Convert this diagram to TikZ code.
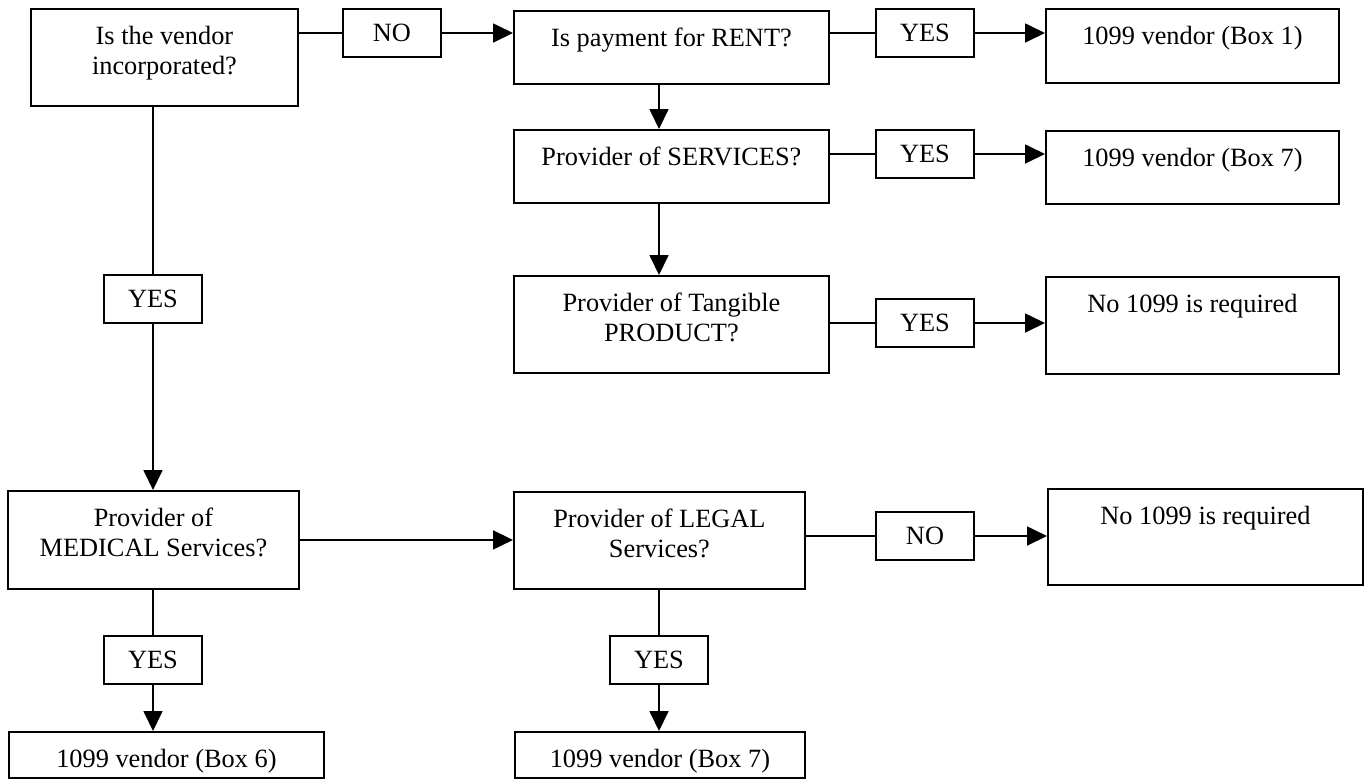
\documentclass[tikz,border=0pt]{standalone}
\usepackage{fontspec}
\setmainfont{Liberation Serif}
\usetikzlibrary{arrows.meta}

% box text set from the top of a box of given width and height
\newcommand{\boxtext}[3]{\parbox[c][#2][t]{#1}{\centering\vspace*{0.34cm}#3\par}}

\begin{document}
\begin{tikzpicture}[
    x=0.02cm, y=-0.02cm,
    every node/.style={font=\fontsize{15}{17}\selectfont},
    box/.style={draw, line width=1.1pt, inner sep=0pt, anchor=north west},
    tag/.style={draw, line width=1.1pt, inner sep=0pt,
                minimum width=1.96cm, minimum height=0.96cm},
    link/.style={line width=1pt},
    arrow/.style={line width=1pt, -{Triangle[length=0.4cm, width=0.38cm]}},
  ]
  \useasboundingbox (0,0) rectangle (1370,779);
  % question and answer boxes
  \node[box] (corp) at (30,8) {\boxtext{5.34cm}{1.94cm}{Is the vendor\\incorporated?}};
  \node[box] (rent) at (513,10) {\boxtext{6.30cm}{1.46cm}{Is payment for RENT?}};
  \node[box] (box1) at (1045,8) {\boxtext{5.86cm}{1.48cm}{1099 vendor (Box 1)}};
  \node[box] (serv) at (513,129) {\boxtext{6.30cm}{1.46cm}{Provider of SERVICES?}};
  \node[box] (box7a) at (1045,130) {\boxtext{5.86cm}{1.46cm}{1099 vendor (Box 7)}};
  \node[box] (prod) at (513,275) {\boxtext{6.30cm}{1.94cm}{Provider of Tangible\\PRODUCT?}};
  \node[box] (none1) at (1045,276) {\boxtext{5.86cm}{1.94cm}{No 1099 is required}};
  \node[box] (med) at (7,490) {\boxtext{5.82cm}{1.96cm}{Provider of\\MEDICAL Services?}};
  \node[box] (legal) at (513,491) {\boxtext{5.82cm}{1.94cm}{Provider of LEGAL\\Services?}};
  \node[box] (none2) at (1047,488) {\boxtext{6.30cm}{1.92cm}{No 1099 is required}};
  \node[box] (box6) at (8,731) {\boxtext{6.30cm}{0.92cm}{1099 vendor (Box 6)}};
  \node[box] (box7b) at (514,731) {\boxtext{5.80cm}{0.92cm}{1099 vendor (Box 7)}};
  % yes / no tags
  \node[tag] (no1) at (392,33) {NO};
  \node[tag] (yes1) at (925,33) {YES};
  \node[tag] (yes2) at (925,154) {YES};
  \node[tag] (yes3) at (925,323) {YES};
  \node[tag] (no2) at (925,536) {NO};
  \node[tag] (yesa) at (153,299) {YES};
  \node[tag] (yesb) at (153,660) {YES};
  \node[tag] (yesc) at (659,660) {YES};
  % connectors
  \draw[link] (corp.east |- no1.west) -- (no1.west);
  \draw[arrow] (no1.east) -- (rent.west |- no1.east);
  \draw[link] (rent.east |- yes1.west) -- (yes1.west);
  \draw[arrow] (yes1.east) -- (box1.west |- yes1.east);
  \draw[link] (serv.east |- yes2.west) -- (yes2.west);
  \draw[arrow] (yes2.east) -- (box7a.west |- yes2.east);
  \draw[link] (prod.east |- yes3.west) -- (yes3.west);
  \draw[arrow] (yes3.east) -- (none1.west |- yes3.east);
  \draw[arrow] (rent.south -| yesc.north) -- (serv.north -| yesc.north);
  \draw[arrow] (serv.south -| yesc.north) -- (prod.north -| yesc.north);
  \draw[link] (corp.south -| yesa.north) -- (yesa.north);
  \draw[arrow] (yesa.south) -- (med.north -| yesa.south);
  \draw[arrow] (med.east) -- (med.east -| legal.west);
  \draw[link] (legal.east |- no2.west) -- (no2.west);
  \draw[arrow] (no2.east) -- (none2.west |- no2.east);
  \draw[link] (med.south -| yesb.north) -- (yesb.north);
  \draw[arrow] (yesb.south) -- (box6.north -| yesb.south);
  \draw[link] (legal.south -| yesc.north) -- (yesc.north);
  \draw[arrow] (yesc.south) -- (box7b.north -| yesc.south);
\end{tikzpicture}
\end{document}
